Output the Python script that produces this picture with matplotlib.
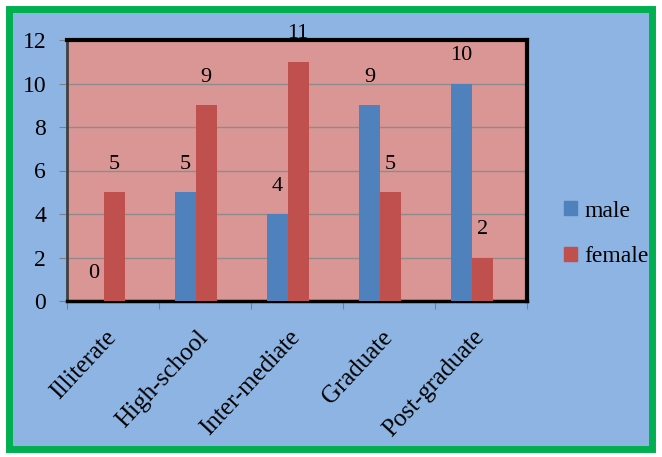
import numpy as np
import matplotlib
matplotlib.use('Agg')
import matplotlib.pyplot as plt
from matplotlib.patches import Rectangle, Patch

plt.rcParams['font.family'] = ['Liberation Serif', 'DejaVu Serif']

categories = ['Illiterate', 'High-school', 'Inter-mediate', 'Graduate', 'Post-graduate']
male = [0, 5, 4, 9, 10]
female = [5, 9, 11, 5, 2]

fig = plt.figure(figsize=(6.62, 4.57), dpi=100, facecolor='white')

# blue panel with green frame
frame = Rectangle((8.5/662, 8.5/457), (652-8.5)/662, (448-8.5)/457,
                  transform=fig.transFigure, facecolor='#8DB4E2',
                  edgecolor='#00B050', linewidth=5, zorder=-5)
fig.patches.append(frame)

ax = fig.add_axes([67/662, 156/457, 460/662, 261/457])
ax.set_zorder(2)
ax.set_facecolor('#D99694')

x = np.arange(len(categories))
w = 0.227
bm = ax.bar(x - 0.213, male, w, color='#4F81BD', zorder=3)
bf = ax.bar(x + 0.014, female, w, color='#C0504D', zorder=3)

for bars in (bm, bf):
    for b in bars:
        ax.annotate(str(int(b.get_height())),
                    (b.get_x() + b.get_width()/2, b.get_height()),
                    xytext=(0, 20), textcoords='offset points',
                    ha='center', va='center', fontsize=16,
                    annotation_clip=False, zorder=5)

ax.set_xlim(-0.5, len(categories) - 0.5)
ax.set_ylim(0, 12)
ax.set_yticks(range(0, 13, 2))
ax.tick_params(axis='y', labelsize=17, length=6, color='#808080', pad=9)
ax.yaxis.grid(True, color='#8C8C8C', linewidth=1, zorder=1)

ax.set_xticks(np.arange(-0.5, len(categories)), minor=False)
ax.set_xticklabels([])
ax.tick_params(axis='x', length=6, color='#808080')
for i, c in enumerate(categories):
    ax.annotate(c, (i, 0), xycoords='data', xytext=(-6, -18),
                textcoords='offset points', rotation=47, ha='right', va='top',
                rotation_mode='anchor', fontsize=18, annotation_clip=False)

ax.spines['top'].set_linewidth(3)
ax.spines['right'].set_linewidth(3)
ax.spines['left'].set_linewidth(2)
ax.spines['left'].set_color('#404040')
ax.spines['bottom'].set_linewidth(2.5)

handles = [Patch(color='#4F81BD'), Patch(color='#C0504D')]
fig.legend(handles, ['male', 'female'], loc='center left',
           bbox_to_anchor=(543/662, 1 - 234/457), frameon=False,
           fontsize=17, handlelength=0.55, handleheight=0.55,
           handletextpad=0.3, labelspacing=1.05)

fig.savefig('out.png', dpi=100, facecolor='white')
